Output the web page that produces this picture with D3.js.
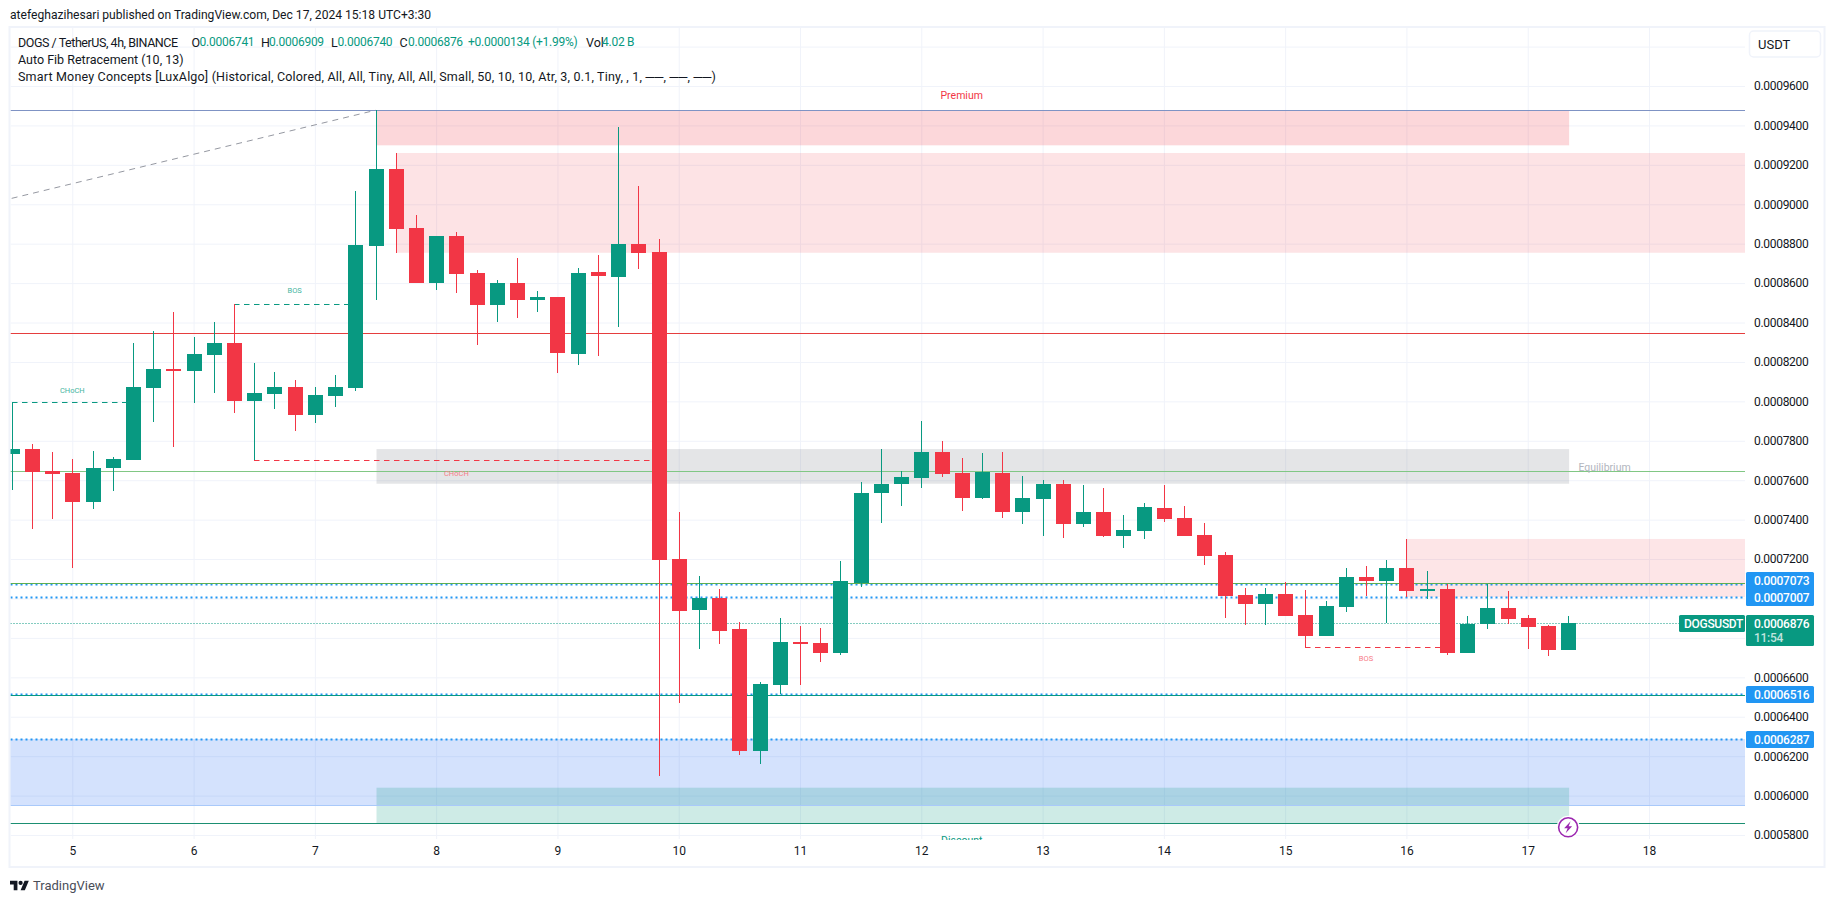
<!DOCTYPE html>
<html>
<head>
<meta charset="utf-8">
<script src="https://cdn.jsdelivr.net/npm/d3@7"></script>
<style>
  html, body { margin: 0; padding: 0; background: #fff; }
  svg { display: block; }
  text { font-family: Roboto, sans-serif; fill: #131722; }
</style>
</head>
<body>
<svg id="chart" width="1835" height="903"></svg>
<script>
// prices are in units of 1e-7 USDT, bar 0 = day 5 00:00, 6 bars per day
const firstBar = -3
const opens = [7733,7758,7647,7637,7489,7662,7703,8068,8164,8154,8235,8296,8002,8037,8073,7931,8027,8068,8788,9179,8879,8600,8839,8651,8489,8600,8514,8529,8240,8656,8631,8798,8758,7200,6942,7002,6845,6226,6561,6779,6774,6723,7079,7535,7581,7611,7743,7637,7510,7637,7439,7505,7581,7378,7439,7317,7342,7459,7408,7322,7220,7018,6972,7023,6916,6810,6957,7109,7089,7155,7043,7048,6723,6870,6952,6901,6860,6741]
const closes = [7758,7642,7631,7489,7662,7708,8073,8164,8159,8240,8296,8002,8042,8073,7931,8032,8073,8793,9179,8874,8600,8839,8646,8489,8600,8514,8529,8245,8651,8636,8798,8752,7195,6936,7002,6835,6226,6566,6779,6769,6723,7089,7535,7581,7616,7743,7632,7510,7642,7439,7510,7581,7378,7439,7317,7347,7464,7403,7317,7215,7012,6972,7023,6911,6810,6962,7109,7089,7155,7038,7048,6723,6870,6952,6896,6855,6739,6876]
const highs = [7995,7784,7743,7708,7748,7718,8296,8357,8453,8327,8403,8494,8195,8149,8108,8073,8134,9067,9477,9260,8945,8839,8859,8666,8616,8727,8560,8529,8676,8742,9392,9092,8824,7439,7114,7048,6881,6576,6901,6860,6850,7190,7591,7758,7647,7900,7799,7713,7738,7743,7621,7601,7601,7576,7560,7424,7484,7576,7469,7383,7236,7053,7053,7084,7043,6987,7155,7165,7195,7302,7139,7073,6911,7073,7038,6916,6865,6909]
const lows = [7550,7352,7403,7155,7454,7545,7703,7895,7768,7992,8042,7941,7701,7961,7850,7890,7971,8052,8514,8752,8600,8565,8550,8286,8402,8423,8453,8144,8184,8230,8377,8671,6099,6470,6744,6769,6206,6160,6515,6561,6678,6713,7058,7383,7469,7561,7616,7444,7505,7408,7378,7317,7307,7363,7312,7256,7302,7388,7317,7170,6901,6865,6865,6911,6755,6810,6931,7013,6874,7007,6997,6713,6723,6845,6870,6744,6708,6740]

const gridPrices = d3.range(5800, 9801, 200)
// 7000 and 6800 sit under the axis tags in the picture
const priceTicks = [5800,6000,6200,6400,6600,7200,7400,7600,7800,8000,8200,8400,8600,8800,9000,9200,9400,9600]
const dayTicks = d3.range(0, 79, 6)
const dayLabels = ["5","6","7","8","9","10","11","12","13","14","15","16","17","18"]

// [first bar, last bar, top price, bottom price]
const premiumZone = [15, 74, 9477, 9299]
const supplyZone = [16, 90, 9260, 8754]
const equilibriumZone = [15, 74, 7758, 7582]
const lateSupplyZone = [66, 90, 7302, 7007]
const discountZone = [-4, 90, 6287, 5950]
const demandZone = [15, 74, 6040, 5861]

// [first bar, last bar, price]
const chochUp = [-3, 3, 7995]
const chochDown = [9, 29, 7701]
const bosUp = [8, 14, 8494]
const bosDown = [61, 68, 6755]

const fibTop = 9477
const fibRed = 8345
const fibMid = 7645
const fibGreen = 7073
const fibTeal = 6516
const fibBottom = 5861
const dottedLevels = [7073, 7007, 6516, 6287]
const lastPrice = 6876
const trendFrom = [-3, 9030]
const trendTo = [15, 9477]

const svg = d3.select("#chart")
const pane = {left: 10.5, right: 1745, top: 27, bottom: 840}

const x = d3.scaleLinear().domain([0, 78]).range([72.3, 1649])
const y = d3.scaleLinear().domain([9600, 5800]).range([86, 835])
const priceFmt = p => (p / 1e7).toFixed(7)

svg.append("defs").append("clipPath").attr("id", "pane")
  .append("rect")
  .attr("x", pane.left).attr("y", pane.top)
  .attr("width", pane.right - pane.left).attr("height", pane.bottom - pane.top)

// outer frame
svg.append("rect")
  .attr("x", 9.5).attr("y", 27).attr("width", 1815).attr("height", 840)
  .attr("fill", "none").attr("stroke", "#f0f3fa").attr("stroke-width", 2)

const grid = svg.append("g").attr("clip-path", "url(#pane)")

grid.append("g")
  .attr("transform", "translate(" + pane.left + ",0)")
  .call(d3.axisRight(y).tickValues(gridPrices).tickSize(pane.right - pane.left).tickFormat(""))
  .call(g => g.select(".domain").remove())
  .selectAll("line").attr("stroke", "#f0f3fa")

grid.append("g")
  .attr("transform", "translate(0," + pane.top + ")")
  .call(d3.axisBottom(x).tickValues(dayTicks).tickSize(812).tickFormat(""))
  .call(g => g.select(".domain").remove())
  .selectAll("line").attr("stroke", "#f0f3fa")

const plot = svg.append("g").attr("clip-path", "url(#pane)")

function zone(z, fill) {
  plot.append("rect")
    .attr("x", Math.round(x(z[0])) + 0.5)
    .attr("y", y(z[2]))
    .attr("width", x(z[1]) - x(z[0]))
    .attr("height", y(z[3]) - y(z[2]))
    .attr("fill", fill)
}
zone(premiumZone, "rgba(242,54,69,0.2)")
zone(supplyZone, "rgba(242,54,69,0.14)")
zone(equilibriumZone, "rgba(120,123,134,0.2)")
zone(lateSupplyZone, "rgba(242,54,69,0.13)")
zone(discountZone, "rgba(41,110,245,0.2)")
zone(demandZone, "rgba(8,153,129,0.2)")

function level(price, color, width, dash, dy) {
  plot.append("line")
    .attr("x1", pane.left).attr("x2", pane.right)
    .attr("y1", Math.round(y(price)) + 0.5 + (dy || 0))
    .attr("y2", Math.round(y(price)) + 0.5 + (dy || 0))
    .attr("stroke", color).attr("stroke-width", width)
    .attr("stroke-dasharray", dash || null)
}
// bottom edge of the blue zone
level(discountZone[3], "#a9c9fa", 1)
level(fibTop, "#7f93c4", 1)
level(fibRed, "#e53e3e", 1)
level(fibMid, "#81c784", 1)
level(fibBottom, "#1b8f72", 1)
level(lastPrice, "#089981", 1, "1 2")
dottedLevels.forEach(p => level(p, "#2196f3", 2, "2 3"))
level(fibGreen, "#5fae4f", 1, null, -1)
level(fibTeal, "#089981", 1, null, 1)

plot.append("line")
  .attr("x1", x(trendFrom[0])).attr("y1", y(trendFrom[1]))
  .attr("x2", x(trendTo[0])).attr("y2", y(trendTo[1]))
  .attr("stroke", "#9598a1").attr("stroke-dasharray", "6 5")

function swing(s, color) {
  const yy = Math.round(y(s[2])) + 0.5
  plot.append("line")
    .attr("x1", Math.round(x(s[0]))).attr("x2", x(s[1]))
    .attr("y1", yy).attr("y2", yy)
    .attr("stroke", color).attr("stroke-dasharray", "5.5 4.5")
}
swing(chochUp, "#089981")
swing(chochDown, "#f23645")
swing(bosUp, "#089981")
swing(bosDown, "#f23645")

// zone and structure captions
function caption(txt, px, py, size, color) {
  plot.append("text")
    .attr("x", px).attr("y", py)
    .attr("text-anchor", "middle").attr("dominant-baseline", "central")
    .attr("font-size", size)
    .style("fill", color)
    .text(txt)
}
caption("Premium", x(44), y(fibTop) - 15, 10.5, "#f23645")
caption("Discount", x(44), y(fibBottom) + 18, 10.5, "#089981")
caption("Equilibrium", x(75.8), y(fibMid) - 4, 10.5, "#b2b5be")
caption("CHoCH", x(0), y(chochUp[2]) - 12, 7.5, "#45b5a1")
caption("CHoCH", x(19), y(chochDown[2]) + 13, 7.5, "#f77c87")
caption("BOS", x(11), y(bosUp[2]) - 13, 7.5, "#45b5a1")
caption("BOS", x(64), y(bosDown[2]) + 12, 7.5, "#f77c87")

// candles
const bars = opens.map((d, i) => ({bar: i + firstBar, o: d, c: closes[i], h: highs[i], l: lows[i]}))
const candle = plot.append("g").attr("shape-rendering", "crispEdges")
  .selectAll("g").data(bars).enter().append("g")
  .attr("fill", d => d.c >= d.o ? "#089981" : "#f23645")

candle.append("rect")
  .attr("x", d => Math.round(x(d.bar)))
  .attr("width", 1)
  .attr("y", d => y(d.h))
  .attr("height", d => y(d.l) - y(d.h))

candle.append("rect")
  .attr("x", d => Math.round(x(d.bar)) - 7)
  .attr("width", 15)
  .attr("y", d => y(Math.max(d.o, d.c)))
  .attr("height", d => Math.max(2, y(Math.min(d.o, d.c)) - y(Math.max(d.o, d.c))))

// price axis
svg.append("g")
  .attr("transform", "translate(1746,0)")
  .call(d3.axisRight(y).tickValues(priceTicks).tickSize(0).tickPadding(8).tickFormat(priceFmt))
  .call(g => g.select(".domain").remove())
  .selectAll("text").attr("font-size", 12).attr("font-family", "Roboto")
  .style("letter-spacing", "-0.3px").style("fill", "#131722")

// time axis
svg.append("g")
  .attr("transform", "translate(0,846)")
  .call(d3.axisBottom(x).tickValues(dayTicks).tickSize(0).tickPadding(0).tickFormat((d, i) => dayLabels[i]))
  .call(g => g.select(".domain").remove())
  .selectAll("text").attr("font-size", 12).attr("font-family", "Roboto").style("fill", "#131722")

// price tags on the axis
function tag(px, py, w, ht, fill) {
  svg.append("rect").attr("x", px).attr("y", py).attr("width", w).attr("height", ht)
    .attr("rx", 1.5).attr("fill", fill)
}
function tagText(txt, px, py, alpha) {
  svg.append("text").attr("x", px).attr("y", py)
    .attr("dominant-baseline", "central")
    .attr("font-size", 12).attr("font-weight", 500)
    .style("letter-spacing", "-0.3px")
    .style("fill", "#fff").style("fill-opacity", alpha || 1)
    .text(txt)
}
tag(1746, 572, 68, 34, "#2196f3")
tagText(priceFmt(dottedLevels[0]), 1754, 580.5)
tagText(priceFmt(dottedLevels[1]), 1754, 597.5)
tag(1746, 686, 68, 17, "#2196f3")
tagText(priceFmt(dottedLevels[2]), 1754, 694.5)
tag(1746, 731, 68, 17, "#2196f3")
tagText(priceFmt(dottedLevels[3]), 1754, 739.5)
tag(1679, 615, 66, 17, "#089981")
tagText("DOGSUSDT", 1684, 623.5)
tag(1746, 615, 68, 31, "#089981")
tagText(priceFmt(lastPrice), 1754, 623.5)
tagText("11:54", 1754, 638, 0.75)

// currency button
svg.append("rect")
  .attr("x", 1749.5).attr("y", 31).attr("width", 71).attr("height", 26).attr("rx", 4)
  .attr("fill", "#fff").attr("stroke", "#f0f3fa").attr("stroke-width", 1.5)
svg.append("text").attr("x", 1758).attr("y", 44)
  .attr("dominant-baseline", "central").attr("font-size", 13).text("USDT")

// header and legend
svg.append("text").attr("x", 10).attr("y", 15)
  .attr("dominant-baseline", "central").attr("font-size", 12.1)
  .text("atefeghazihesari published on TradingView.com, Dec 17, 2024 15:18 UTC+3:30")

const legendDark = ["DOGS / TetherUS, 4h, BINANCE", "O", "H", "L", "C", "Vol"]
const legendDarkX = [18, 191.5, 261, 331, 399.5, 586]
const legendGreen = ["0.0006741", "0.0006909", "0.0006740", "0.0006876", "+0.0000134 (+1.99%)", "4.02 B"]
const legendGreenX = [199.5, 269, 337.5, 408, 468, 602]
legendDark.forEach((t, i) => {
  svg.append("text").attr("x", legendDarkX[i]).attr("y", 42)
    .attr("dominant-baseline", "central").attr("font-size", 12.5)
    .style("letter-spacing", i ? null : "-0.45px").text(t)
})
legendGreen.forEach((t, i) => {
  svg.append("text").attr("x", legendGreenX[i]).attr("y", 42)
    .attr("dominant-baseline", "central").attr("font-size", 12)
    .style("letter-spacing", "-0.25px")
    .style("fill", "#089981").text(t)
})
svg.append("text").attr("x", 18).attr("y", 59)
  .attr("dominant-baseline", "central").attr("font-size", 12.5)
  .text("Auto Fib Retracement (10, 13)")
svg.append("text").attr("x", 18).attr("y", 76)
  .attr("dominant-baseline", "central").attr("font-size", 12.5)
  .style("letter-spacing", "0.18px")
  .text("Smart Money Concepts [LuxAlgo] (Historical, Colored, All, All, Tiny, All, All, Small, 50, 10, 10, Atr, 3, 0.1, Tiny, , 1, ──, ──, ──)")

// lightning marker
const mark = svg.append("g").attr("transform", "translate(" + x(74) + ",827.3)")
mark.append("circle").attr("r", 11.5).attr("fill", "#fff")
mark.append("circle").attr("r", 9.5).attr("fill", "#fff").attr("stroke", "#9c27b0").attr("stroke-width", 1.6)
mark.append("path").attr("d", "M2.5 -6 L-4 1 L-0.5 1 L-2.5 6 L4 -1 L0.5 -1 Z").attr("fill", "#9c27b0")

// TradingView logo
const logo = svg.append("g").attr("transform", "translate(10,878.7) scale(0.53)").attr("fill", "#131722")
logo.append("path").attr("d", "M14 22H7V11H0V4h14v18zM28 22h-8l7.5-18h8L28 22z")
logo.append("circle").attr("cx", 20).attr("cy", 8).attr("r", 4)
svg.append("text").attr("x", 33).attr("y", 885.5)
  .attr("dominant-baseline", "central").attr("font-size", 13).style("fill", "#4a4e59")
  .text("TradingView")
</script>
</body>
</html>
